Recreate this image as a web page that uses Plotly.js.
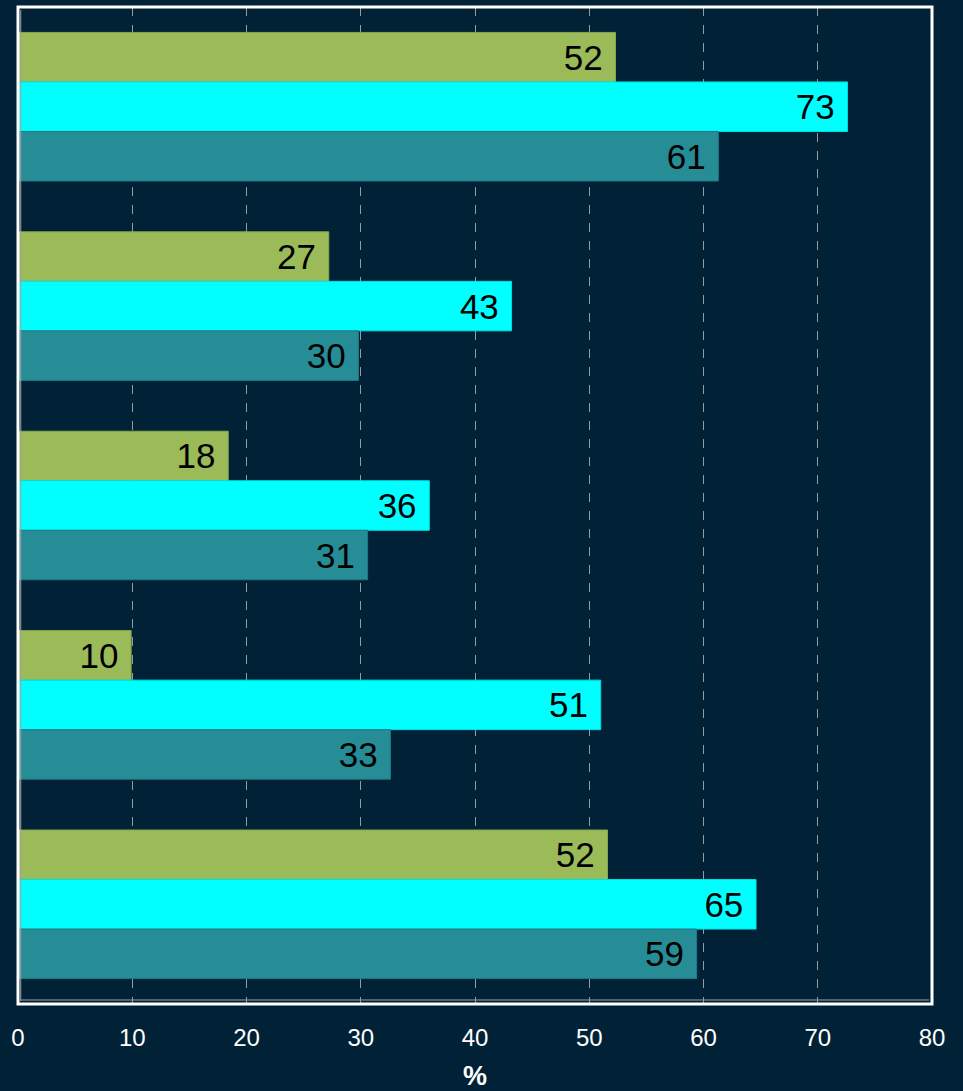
<!DOCTYPE html>
<html>
<head>
<meta charset="utf-8">
<script src="https://cdn.plot.ly/plotly-3.0.1.min.js"></script>
<style>
html,body{margin:0;padding:0;background:#012236;}
#chart{width:963px;height:1091px;}
</style>
</head>
<body>
<div id="chart"></div>
<script>
var categories = ['G1', 'G2', 'G3', 'G4', 'G5'];
var seriesA = [52.3, 27.2, 18.4, 9.9, 51.6];
var seriesB = [72.6, 43.2, 36.0, 51.0, 64.6];
var seriesC = [61.3, 29.8, 30.6, 32.6, 59.4];
var xTicks = [0, 10, 20, 30, 40, 50, 60, 70, 80];

function mk(vals, color, lineColor) {
  return {
    type: 'bar', orientation: 'h',
    x: vals, y: categories,
    marker: {color: color, line: {color: lineColor, width: 1}},
    texttemplate: '%{x:.0f}\u00a0',
    textposition: 'inside',
    insidetextanchor: 'end',
    textangle: 0,
    insidetextfont: {family: 'Liberation Sans, Arial, sans-serif', size: 35, color: '#000000'},
    hoverinfo: 'x',
    cliponaxis: false
  };
}

var data = [
  mk(seriesA, '#9BBB59', '#8AA84E'),
  mk(seriesB, '#00FFFF', '#00E0E0'),
  mk(seriesC, '#268C96', '#1F7A84')
];

var layout = {
  width: 963, height: 1091,
  paper_bgcolor: '#012236',
  plot_bgcolor: '#012236',
  margin: {l: 18, r: 31, t: 7, b: 87, pad: 0},
  barmode: 'group',
  bargap: 0.255,
  bargroupgap: 0,
  showlegend: false,
  uniformtext: {mode: 'show', minsize: 35},
  font: {family: 'Liberation Sans, Arial, sans-serif', color: '#FFFFFF'},
  xaxis: {
    range: [0, 80],
    tickvals: xTicks,
    ticktext: xTicks.map(String),
    tickfont: {size: 24, color: '#FFFFFF'},
    ticks: 'outside',
    ticklen: 12,
    tickcolor: 'rgba(0,0,0,0)',
    showgrid: true,
    gridcolor: '#9A9A9A',
    griddash: 'dash',
    gridwidth: 1,
    zeroline: false,
    showline: false,
    title: {text: '<b>%</b>', font: {size: 27, color: '#FFFFFF'}, standoff: 24},
    fixedrange: true
  },
  yaxis: {
    autorange: 'reversed',
    showticklabels: false,
    ticks: '',
    showgrid: false,
    zeroline: false,
    showline: false,
    fixedrange: true
  },
  shapes: [
    {type: 'rect', xref: 'paper', yref: 'paper', x0: 0, x1: 1, y0: 0, y1: 1,
     line: {color: '#FFFFFF', width: 3}, layer: 'above'},
    {type: 'line', xref: 'paper', yref: 'paper', x0: 0.003, x1: 0.003, y0: 0.003, y1: 0.997,
     line: {color: '#A0A0A0', width: 1}, layer: 'above'},
    {type: 'line', xref: 'paper', yref: 'paper', x0: 0.003, x1: 0.997, y0: 0.004, y1: 0.004,
     line: {color: '#A0A0A0', width: 1}, layer: 'above'}
  ]
};

Plotly.newPlot('chart', data, layout, {displayModeBar: false, staticPlot: true});
</script>
</body>
</html>
